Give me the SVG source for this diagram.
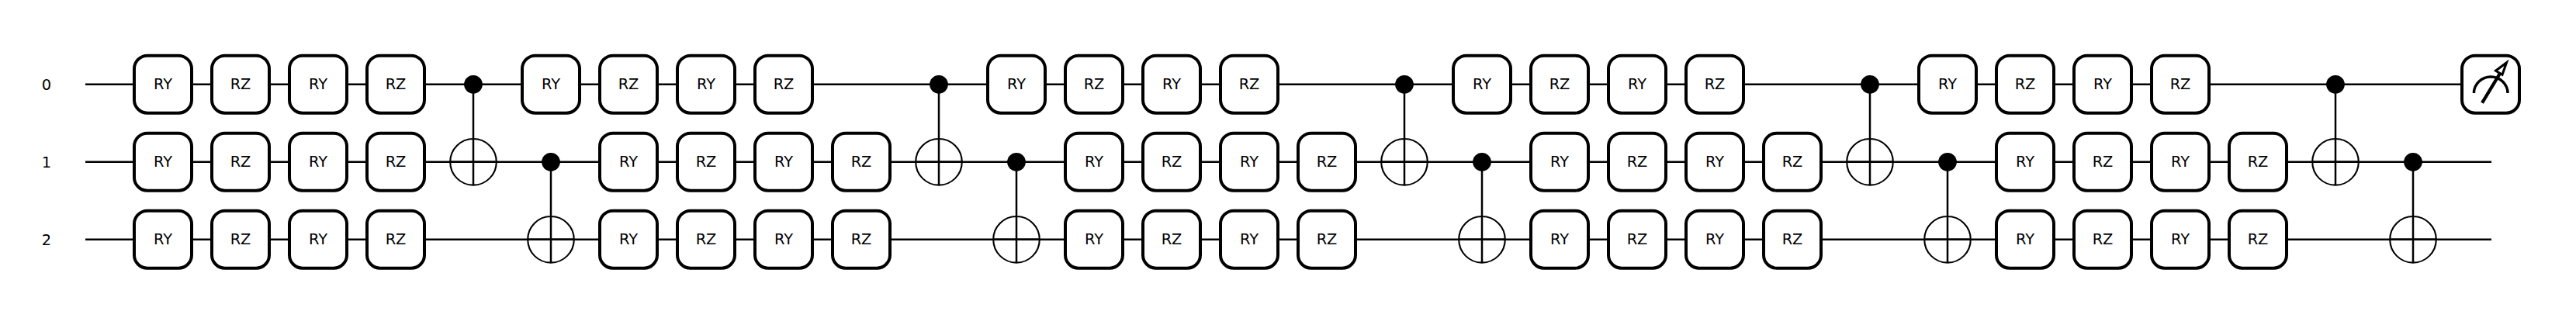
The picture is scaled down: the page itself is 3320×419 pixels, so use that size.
<svg xmlns="http://www.w3.org/2000/svg" width="3320" height="419" viewBox="0 0 3320 419">
<style>
.w{stroke:#000;stroke-width:2.5;fill:none}
.b{fill:#fff;stroke:#000;stroke-width:4}
.t{font-family:"DejaVu Sans",sans-serif;font-size:19.4px;text-anchor:middle;fill:#000}
.c{fill:#000}
.o{fill:none;stroke:#000;stroke-width:2.1}
</style>
<defs>
<rect id="box" class="b" x="-37" y="-37" width="74" height="74" rx="17" ry="17"/>
<g id="cn0">
<line class="w" x1="0" y1="0" x2="0" y2="130"/>
<circle class="c" cx="0" cy="0" r="11.9"/>
<circle class="o" cx="0" cy="100" r="29.8"/>
<line class="w" x1="-30" y1="100" x2="30" y2="100"/>
</g>
</defs>
<rect width="3320" height="419" fill="#fff"/>
<g id="connectors">
<line class="w" x1="110" y1="108.8" x2="3210" y2="108.8"/>
<line class="w" x1="110" y1="208.8" x2="3211" y2="208.8"/>
<line class="w" x1="110" y1="308.8" x2="3211" y2="308.8"/>
</g>
<g id="wire-labels">
<text class="t" x="60" y="115.8">0</text>
<text class="t" x="60" y="215.8">1</text>
<text class="t" x="60" y="315.8">2</text>
</g>
<g id="w0g0" transform="translate(210 108.7)"><use href="#box"/><text class="t" y="6.5">RY</text></g>
<g id="w0g1" transform="translate(310 108.7)"><use href="#box"/><text class="t" y="6.5">RZ</text></g>
<g id="w0g2" transform="translate(410 108.7)"><use href="#box"/><text class="t" y="6.5">RY</text></g>
<g id="w0g3" transform="translate(510 108.7)"><use href="#box"/><text class="t" y="6.5">RZ</text></g>
<g id="w1g0" transform="translate(210 208.7)"><use href="#box"/><text class="t" y="6.5">RY</text></g>
<g id="w1g1" transform="translate(310 208.7)"><use href="#box"/><text class="t" y="6.5">RZ</text></g>
<g id="w1g2" transform="translate(410 208.7)"><use href="#box"/><text class="t" y="6.5">RY</text></g>
<g id="w1g3" transform="translate(510 208.7)"><use href="#box"/><text class="t" y="6.5">RZ</text></g>
<g id="w2g0" transform="translate(210 308.7)"><use href="#box"/><text class="t" y="6.5">RY</text></g>
<g id="w2g1" transform="translate(310 308.7)"><use href="#box"/><text class="t" y="6.5">RZ</text></g>
<g id="w2g2" transform="translate(410 308.7)"><use href="#box"/><text class="t" y="6.5">RY</text></g>
<g id="w2g3" transform="translate(510 308.7)"><use href="#box"/><text class="t" y="6.5">RZ</text></g>
<g id="cnot01a" transform="translate(610 108.8)"><use href="#cn0"/></g>
<g id="cnot12a" transform="translate(710 208.8)"><use href="#cn0"/></g>
<g id="w0g4" transform="translate(710 108.7)"><use href="#box"/><text class="t" y="6.5">RY</text></g>
<g id="w0g5" transform="translate(810 108.7)"><use href="#box"/><text class="t" y="6.5">RZ</text></g>
<g id="w0g6" transform="translate(910 108.7)"><use href="#box"/><text class="t" y="6.5">RY</text></g>
<g id="w0g7" transform="translate(1010 108.7)"><use href="#box"/><text class="t" y="6.5">RZ</text></g>
<g id="w1g4" transform="translate(810 208.7)"><use href="#box"/><text class="t" y="6.5">RY</text></g>
<g id="w1g5" transform="translate(910 208.7)"><use href="#box"/><text class="t" y="6.5">RZ</text></g>
<g id="w1g6" transform="translate(1010 208.7)"><use href="#box"/><text class="t" y="6.5">RY</text></g>
<g id="w1g7" transform="translate(1110 208.7)"><use href="#box"/><text class="t" y="6.5">RZ</text></g>
<g id="w2g4" transform="translate(810 308.7)"><use href="#box"/><text class="t" y="6.5">RY</text></g>
<g id="w2g5" transform="translate(910 308.7)"><use href="#box"/><text class="t" y="6.5">RZ</text></g>
<g id="w2g6" transform="translate(1010 308.7)"><use href="#box"/><text class="t" y="6.5">RY</text></g>
<g id="w2g7" transform="translate(1110 308.7)"><use href="#box"/><text class="t" y="6.5">RZ</text></g>
<g id="cnot01b" transform="translate(1210 108.8)"><use href="#cn0"/></g>
<g id="cnot12b" transform="translate(1310 208.8)"><use href="#cn0"/></g>
<g id="w0g8" transform="translate(1310 108.7)"><use href="#box"/><text class="t" y="6.5">RY</text></g>
<g id="w0g9" transform="translate(1410 108.7)"><use href="#box"/><text class="t" y="6.5">RZ</text></g>
<g id="w0g10" transform="translate(1510 108.7)"><use href="#box"/><text class="t" y="6.5">RY</text></g>
<g id="w0g11" transform="translate(1610 108.7)"><use href="#box"/><text class="t" y="6.5">RZ</text></g>
<g id="w1g8" transform="translate(1410 208.7)"><use href="#box"/><text class="t" y="6.5">RY</text></g>
<g id="w1g9" transform="translate(1510 208.7)"><use href="#box"/><text class="t" y="6.5">RZ</text></g>
<g id="w1g10" transform="translate(1610 208.7)"><use href="#box"/><text class="t" y="6.5">RY</text></g>
<g id="w1g11" transform="translate(1710 208.7)"><use href="#box"/><text class="t" y="6.5">RZ</text></g>
<g id="w2g8" transform="translate(1410 308.7)"><use href="#box"/><text class="t" y="6.5">RY</text></g>
<g id="w2g9" transform="translate(1510 308.7)"><use href="#box"/><text class="t" y="6.5">RZ</text></g>
<g id="w2g10" transform="translate(1610 308.7)"><use href="#box"/><text class="t" y="6.5">RY</text></g>
<g id="w2g11" transform="translate(1710 308.7)"><use href="#box"/><text class="t" y="6.5">RZ</text></g>
<g id="cnot01c" transform="translate(1810 108.8)"><use href="#cn0"/></g>
<g id="cnot12c" transform="translate(1910 208.8)"><use href="#cn0"/></g>
<g id="w0g12" transform="translate(1910 108.7)"><use href="#box"/><text class="t" y="6.5">RY</text></g>
<g id="w0g13" transform="translate(2010 108.7)"><use href="#box"/><text class="t" y="6.5">RZ</text></g>
<g id="w0g14" transform="translate(2110 108.7)"><use href="#box"/><text class="t" y="6.5">RY</text></g>
<g id="w0g15" transform="translate(2210 108.7)"><use href="#box"/><text class="t" y="6.5">RZ</text></g>
<g id="w1g12" transform="translate(2010 208.7)"><use href="#box"/><text class="t" y="6.5">RY</text></g>
<g id="w1g13" transform="translate(2110 208.7)"><use href="#box"/><text class="t" y="6.5">RZ</text></g>
<g id="w1g14" transform="translate(2210 208.7)"><use href="#box"/><text class="t" y="6.5">RY</text></g>
<g id="w1g15" transform="translate(2310 208.7)"><use href="#box"/><text class="t" y="6.5">RZ</text></g>
<g id="w2g12" transform="translate(2010 308.7)"><use href="#box"/><text class="t" y="6.5">RY</text></g>
<g id="w2g13" transform="translate(2110 308.7)"><use href="#box"/><text class="t" y="6.5">RZ</text></g>
<g id="w2g14" transform="translate(2210 308.7)"><use href="#box"/><text class="t" y="6.5">RY</text></g>
<g id="w2g15" transform="translate(2310 308.7)"><use href="#box"/><text class="t" y="6.5">RZ</text></g>
<g id="cnot01d" transform="translate(2410 108.8)"><use href="#cn0"/></g>
<g id="cnot12d" transform="translate(2510 208.8)"><use href="#cn0"/></g>
<g id="w0g16" transform="translate(2510 108.7)"><use href="#box"/><text class="t" y="6.5">RY</text></g>
<g id="w0g17" transform="translate(2610 108.7)"><use href="#box"/><text class="t" y="6.5">RZ</text></g>
<g id="w0g18" transform="translate(2710 108.7)"><use href="#box"/><text class="t" y="6.5">RY</text></g>
<g id="w0g19" transform="translate(2810 108.7)"><use href="#box"/><text class="t" y="6.5">RZ</text></g>
<g id="w1g16" transform="translate(2610 208.7)"><use href="#box"/><text class="t" y="6.5">RY</text></g>
<g id="w1g17" transform="translate(2710 208.7)"><use href="#box"/><text class="t" y="6.5">RZ</text></g>
<g id="w1g18" transform="translate(2810 208.7)"><use href="#box"/><text class="t" y="6.5">RY</text></g>
<g id="w1g19" transform="translate(2910 208.7)"><use href="#box"/><text class="t" y="6.5">RZ</text></g>
<g id="w2g16" transform="translate(2610 308.7)"><use href="#box"/><text class="t" y="6.5">RY</text></g>
<g id="w2g17" transform="translate(2710 308.7)"><use href="#box"/><text class="t" y="6.5">RZ</text></g>
<g id="w2g18" transform="translate(2810 308.7)"><use href="#box"/><text class="t" y="6.5">RY</text></g>
<g id="w2g19" transform="translate(2910 308.7)"><use href="#box"/><text class="t" y="6.5">RZ</text></g>
<g id="cnot01e" transform="translate(3010 108.8)"><use href="#cn0"/></g>
<g id="cnot12e" transform="translate(3110 208.8)"><use href="#cn0"/></g>
<g id="measure" transform="translate(3210 108.7)">
<use href="#box"/>
<path d="M-21.6 11.3A21.8 21 0 0 1 22 11.3" fill="none" stroke="#000" stroke-width="3.4"/>
<line x1="-11" y1="24" x2="12" y2="-14" stroke="#000" stroke-width="4.2"/>
<path d="M20.5 -28L6.5 -17.5L15 -12.5Z" fill="#fff" stroke="#000" stroke-width="3"/>
</g>
</svg>
